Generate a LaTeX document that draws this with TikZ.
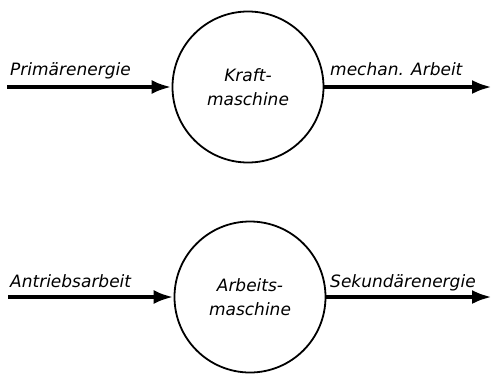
\documentclass[tikz,border=0pt]{standalone}
\usepackage{fontspec}
\setmainfont{DejaVu Sans}
\usetikzlibrary{arrows.meta,positioning}

\begin{document}
\begin{tikzpicture}[>={Latex[length=20pt,width=14pt]}, x=1pt, y=-1pt, font=\itshape\fontsize{17}{24}\selectfont]
    \useasboundingbox (0,0) rectangle (492,373);
    \node at (248,87) [draw, line width=1.8pt, circle, minimum size=151pt, inner sep=0pt, align=center](kra){Kraft-\\maschine};
    \node at (250,297) [draw, line width=1.8pt, circle, minimum size=151pt, inner sep=0pt, align=center](arb){Arbeits-\\maschine};
    \coordinate (pin) at (7,87);
    \coordinate (mout) at (492,87);
    \coordinate (ain) at (8,297);
    \coordinate (sout) at (492,297);

    %% Labels
    \node at (10,75) [anchor=base west, inner sep=0pt](pri){Primärenergie};
    \node at (330,75) [anchor=base west, inner sep=0pt](mec){mechan. Arbeit};
    \node at (10,287) [anchor=base west, inner sep=0pt](ant){Antriebsarbeit};
    \node at (330,287) [anchor=base west, inner sep=0pt](sek){Sekundärenergie};

    %% Arrows
    \draw [->, line width=4pt] (pin) -- (kra);
    \draw [->, line width=4pt] (kra) -- (mout);
    \draw [->, line width=4pt] (ain) -- (arb);
    \draw [->, line width=4pt] (arb) -- (sout);
\end{tikzpicture}
\end{document}
